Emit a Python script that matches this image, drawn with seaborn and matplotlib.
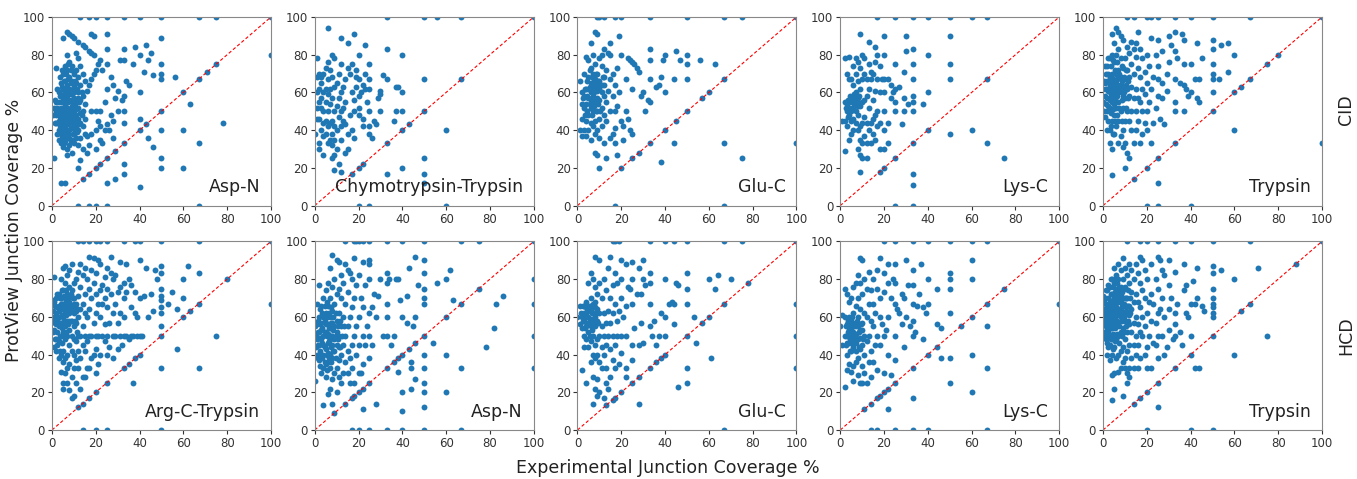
import pandas as pd
import matplotlib
matplotlib.use('Agg')
import matplotlib.pyplot as plt
import seaborn as sns

# Row / column labels
fragmentation = ['CID', 'HCD']
cid_enzymes = ['Asp-N', 'Chymotrypsin-Trypsin', 'Glu-C', 'Lys-C', 'Trypsin']
hcd_enzymes = ['Arg-C-Trypsin', 'Asp-N', 'Glu-C', 'Lys-C', 'Trypsin']
ticks = [0, 20, 40, 60, 80, 100]

# (experimental coverage %, ProtView coverage %)
cid_asp_n = [
    (13, 100), (17, 100), (20, 100), (25, 100), (33, 100), (40, 100), (50, 100), (67, 100), (75, 100), (100, 100),
    (12, 0), (17, 0), (20, 0), (25, 0), (67, 0),
    (14, 14), (17, 17), (20, 20), (22, 22), (25, 25), (29, 29), (33, 33), (40, 40), (43, 43), (50, 50),
    (60, 60), (67, 67), (71, 71), (75, 75),
    (100, 80), (78, 44), (67, 33), (60, 40), (60, 20), (50, 25), (50, 20), (40, 10), (46, 31), (44, 36),
    (33, 22), (33, 17), (29, 14), (25, 12), (6, 12), (4, 12), (12, 20), (13, 24), (1, 25), (2, 73),
    (7, 92), (8, 91), (9, 90), (10, 89), (12, 87), (14, 85), (15, 84), (17, 82), (18, 81), (19, 80),
    (5, 89), (18, 91), (19, 90), (25, 91), (25, 83), (33, 83), (38, 84), (43, 85), (45, 81), (40, 80),
    (44, 77), (42, 71), (46, 69), (50, 75), (50, 70), (50, 67), (56, 68), (50, 89), (37, 75), (31, 77),
    (33, 77), (34, 66), (35, 64), (40, 60), (33, 58), (29, 57), (32, 56), (33, 50), (30, 50), (28, 45),
    (33, 44), (40, 46), (63, 54), (50, 40), (25, 62), (27, 68), (28, 64), (30, 61), (22, 77), (21, 75),
    (20, 72), (23, 72), (25, 75), (19, 70), (18, 67), (17, 64), (16, 61), (24, 55), (22, 50), (20, 50),
    (18, 50), (21, 45), (22, 42), (24, 40), (20, 40), (22, 35), (23, 33), (20, 30), (17, 32), (16, 28),
    (14, 30), (16, 37), (18, 38), (28, 36), (26, 40), (25, 43), (27, 48),
    (1, 52), (2, 50), (2, 55), (2, 48), (3, 60), (3, 45), (3, 40), (3, 35), (4, 65), (4, 58), (4, 52),
    (4, 47), (4, 42), (4, 38), (4, 33), (5, 70), (5, 62), (5, 56), (5, 50), (5, 44), (5, 36), (5, 31),
    (6, 74), (6, 66), (6, 60), (6, 54), (6, 48), (6, 42), (6, 38), (6, 34), (7, 80), (7, 72), (7, 64),
    (7, 58), (7, 52), (7, 46), (7, 40), (7, 30), (7, 27), (8, 76), (8, 68), (8, 62), (8, 56), (8, 50),
    (8, 44), (8, 36), (8, 32), (9, 74), (9, 66), (9, 59), (9, 53), (9, 47), (9, 41), (9, 35), (9, 28),
    (10, 70), (10, 63), (10, 57), (10, 50), (10, 45), (10, 38), (10, 33), (11, 81), (11, 72), (11, 65),
    (11, 55), (11, 48), (11, 42), (11, 36), (12, 78), (12, 68), (12, 60), (12, 52), (12, 46), (12, 40),
    (12, 32), (13, 74), (13, 64), (13, 56), (13, 44), (13, 36), (14, 70), (14, 58), (14, 50), (14, 42),
    (15, 66), (15, 54), (15, 46), (15, 38), (3, 55), (5, 58), (6, 51), (8, 47), (9, 56), (10, 60),
    (7, 55), (6, 45), (4, 49), (11, 51), (12, 57), (13, 49), (8, 40), (10, 42), (2, 44), (3, 50),
    (0.5, 48), (1.5, 56), (1.5, 44), (2.5, 62), (2.5, 52), (2.5, 38), (3.5, 68), (3.5, 58), (3.5, 47),
    (3.5, 42), (4.5, 72), (4.5, 63), (4.5, 55), (4.5, 45), (4.5, 36), (5.5, 66), (5.5, 59), (5.5, 52),
    (5.5, 47), (5.5, 40), (5.5, 33), (6.5, 70), (6.5, 62), (6.5, 57), (6.5, 50), (6.5, 44), (6.5, 36),
    (7.5, 75), (7.5, 67), (7.5, 60), (7.5, 55), (7.5, 49), (7.5, 43), (7.5, 38), (8.5, 72), (8.5, 65),
    (8.5, 59), (8.5, 52), (8.5, 46), (8.5, 41), (8.5, 34), (9.5, 62), (9.5, 55), (9.5, 49), (9.5, 44),
    (9.5, 38), (10.5, 66), (10.5, 54), (10.5, 47), (10.5, 40), (11.5, 62), (11.5, 45), (11.5, 39),
    (12.5, 55), (12.5, 43), (13.5, 60), (13.5, 48),
]

cid_chymo_tryp = [
    (33, 100), (50, 100), (56, 100), (67, 100), (100, 100), (20, 0), (25, 0), (60, 0),
    (17, 17), (20, 20), (22, 22), (33, 33), (40, 40), (43, 43), (50, 50), (67, 67),
    (60, 40), (50, 25), (50, 17), (50, 12), (50, 67), (40, 20), (33, 17), (33, 83), (40, 80), (40, 60),
    (40, 50), (37, 50), (36, 45), (38, 63), (37, 63), (33, 67), (31, 69), (30, 61), (30, 59), (29, 57),
    (30, 50), (28, 43), (27, 45), (26, 36), (25, 75), (25, 67), (25, 62), (25, 50), (25, 42), (25, 38),
    (24, 55), (23, 85), (23, 70), (23, 62), (22, 64), (22, 46), (22, 42), (21, 60), (20, 80), (20, 67),
    (20, 58), (20, 52), (20, 48), (19, 72), (19, 68), (19, 63), (18, 91), (18, 56), (18, 36), (18, 50),
    (17, 75), (17, 60), (17, 40), (16, 70), (16, 48), (15, 86), (15, 73), (15, 38), (15, 30), (14, 67),
    (14, 55), (14, 43), (14, 28), (13, 63), (13, 52), (13, 45), (12, 89), (12, 75), (12, 60), (12, 50),
    (12, 42), (12, 35), (12, 18), (11, 70), (11, 57), (11, 47), (11, 22), (10, 65), (10, 53), (10, 40),
    (10, 30), (9, 78), (9, 63), (9, 50), (9, 42), (9, 35), (9, 27), (9, 19), (8, 80), (8, 68), (8, 57),
    (8, 45), (8, 38), (8, 32), (8, 25), (7, 72), (7, 62), (7, 54), (7, 44), (7, 35), (6, 94), (6, 76),
    (6, 67), (6, 59), (6, 50), (6, 42), (6, 33), (5, 73), (5, 62), (5, 55), (5, 45), (5, 38), (4, 70),
    (4, 60), (4, 50), (4, 44), (4, 37), (4, 27), (3, 68), (3, 65), (3, 57), (3, 52), (3, 40), (2, 70),
    (2, 62), (2, 55), (2, 46), (2, 33), (2, 30), (1, 78), (1, 68), (1, 60), (1, 52), (1, 46), (0, 38),
]

cid_glu_c = [
    (9, 100), (10, 100), (12, 100), (17, 100), (20, 100), (33, 100), (50, 100), (67, 100), (75, 100), (100, 100),
    (17, 0), (67, 0),
    (20, 20), (25, 25), (28, 28), (33, 33), (40, 40), (45, 45), (50, 50), (57, 57), (60, 60), (67, 67),
    (100, 33), (75, 25), (67, 33), (44, 33), (38, 23), (63, 75), (56, 77), (50, 80), (50, 75), (50, 67),
    (47, 77), (45, 82), (44, 67), (40, 80), (40, 60), (39, 77), (38, 68), (37, 64), (36, 63), (33, 83),
    (33, 77), (33, 67), (33, 55), (32, 56), (31, 50), (30, 60), (29, 58), (28, 71), (27, 73), (26, 75),
    (25, 76), (24, 77), (23, 78), (22, 67), (25, 62), (22, 50), (23, 46), (24, 40), (25, 38), (21, 42),
    (21, 35), (20, 45), (20, 80), (19, 60), (18, 53), (18, 73), (19, 90), (17, 64), (17, 50), (17, 41),
    (17, 33), (18, 27), (16, 70), (16, 58), (16, 38), (15, 86), (15, 80), (15, 67), (15, 50), (15, 36),
    (14, 61), (14, 81), (13, 72), (13, 55), (13, 45), (13, 25), (12, 83), (12, 68), (12, 58), (12, 48),
    (12, 33), (11, 80), (11, 74), (11, 64), (11, 52), (11, 42), (10, 78), (10, 66), (10, 56), (10, 46),
    (10, 36), (10, 20), (9, 91), (9, 70), (9, 61), (9, 50), (9, 40), (9, 27), (8, 92), (8, 75), (8, 64),
    (8, 55), (8, 45), (8, 38), (8, 28), (7, 80), (7, 70), (7, 58), (7, 50), (7, 42), (6, 86), (6, 73),
    (6, 65), (6, 60), (6, 52), (6, 44), (6, 35), (5, 77), (5, 68), (5, 57), (5, 48), (5, 40), (4, 79),
    (4, 62), (4, 54), (4, 45), (4, 37), (3, 70), (3, 58), (3, 52), (3, 40), (2, 60), (2, 54), (2, 46),
    (2, 37), (1, 66), (1, 40), (7, 63), (8, 67), (9, 57), (10, 62), (11, 60), (6, 56), (5, 62), (12, 64),
    (2.5, 57), (3.5, 62), (3.5, 48), (4.5, 66), (4.5, 58), (4.5, 50), (5.5, 72), (5.5, 63), (5.5, 54),
    (6.5, 68), (6.5, 57), (6.5, 48), (7.5, 66), (7.5, 60), (7.5, 53), (8.5, 70), (8.5, 62), (8.5, 50),
    (9.5, 66), (9.5, 54), (10.5, 64), (10.5, 50), (11.5, 68),
]

cid_lys_c = [
    (17, 100), (25, 100), (33, 100), (40, 100), (50, 100), (60, 100), (67, 100), (25, 0), (33, 0),
    (18, 18), (20, 20), (25, 25), (33, 33), (40, 40), (67, 67),
    (75, 25), (67, 33), (60, 40), (50, 38), (33, 17), (33, 11), (50, 90), (50, 75), (50, 67), (40, 80),
    (40, 60), (38, 54), (33, 83), (33, 75), (33, 67), (33, 58), (33, 55), (33, 50), (31, 54), (30, 90),
    (30, 82), (29, 71), (29, 57), (29, 50), (28, 43), (27, 63), (25, 75), (25, 62), (25, 55), (25, 50),
    (24, 60), (23, 64), (23, 57), (22, 67), (22, 44), (22, 33), (20, 90), (20, 80), (20, 67), (20, 60),
    (20, 50), (20, 40), (20, 30), (19, 67), (18, 74), (18, 60), (18, 44), (18, 30), (17, 80), (17, 67),
    (17, 50), (17, 42), (16, 84), (16, 76), (16, 61), (16, 48), (16, 35), (15, 70), (15, 56), (15, 46),
    (15, 38), (14, 71), (14, 67), (14, 44), (14, 33), (13, 87), (13, 75), (13, 62), (13, 52), (13, 40),
    (12, 67), (12, 58), (12, 44), (12, 33), (12, 25), (11, 78), (11, 70), (11, 56), (11, 47), (11, 37),
    (10, 80), (10, 67), (10, 55), (10, 44), (10, 33), (10, 25), (9, 91), (9, 73), (9, 62), (9, 53),
    (9, 42), (9, 35), (9, 27), (9, 18), (8, 76), (8, 66), (8, 57), (8, 48), (8, 40), (8, 30), (7, 78),
    (7, 70), (7, 60), (7, 55), (7, 50), (7, 44), (6, 74), (6, 64), (6, 58), (6, 52), (6, 46), (6, 40),
    (5, 67), (5, 56), (5, 50), (5, 45), (5, 38), (4, 79), (4, 67), (4, 55), (4, 48), (4, 35), (3, 70),
    (3, 54), (3, 50), (3, 42), (2, 78), (2, 55), (2, 45), (2, 29), (1, 45), (6, 55), (7, 57), (8, 53),
    (2.5, 52), (3.5, 56), (4.5, 58), (4.5, 52), (5.5, 55), (6.5, 59), (6.5, 53), (7.5, 55), (8.5, 58),
    (3.5, 47),
]

cid_trypsin = [
    (11, 100), (14, 100), (20, 100), (22, 100), (25, 100), (33, 100), (40, 100), (50, 100), (67, 100), (100, 100),
    (20, 0), (25, 0), (40, 0),
    (14, 14), (20, 20), (25, 25), (33, 33), (50, 50), (60, 60), (63, 63), (67, 67), (75, 75), (80, 80),
    (100, 33), (60, 40), (60, 80), (57, 86), (57, 71), (54, 85), (53, 67), (50, 88), (50, 83), (50, 75),
    (50, 70), (50, 67), (50, 60), (45, 78), (44, 67), (44, 55), (43, 86), (43, 57), (42, 67), (40, 75),
    (40, 60), (39, 58), (38, 62), (37, 64), (37, 75), (37, 88), (36, 91), (35, 65), (34, 78), (33, 92),
    (33, 82), (33, 67), (33, 55), (33, 50), (37, 50), (31, 85), (30, 90), (30, 76), (29, 70), (29, 61),
    (28, 43), (27, 82), (27, 65), (27, 57), (26, 46), (25, 88), (25, 74), (25, 67), (25, 58), (25, 12),
    (24, 80), (24, 52), (23, 68), (23, 44), (22, 89), (22, 62), (22, 33), (21, 74), (21, 55), (20, 80),
    (20, 65), (20, 50), (20, 40), (19, 71), (19, 59), (19, 44), (18, 78), (18, 62), (18, 50), (18, 38),
    (17, 83), (17, 68), (17, 55), (17, 33), (16, 92), (16, 73), (16, 57), (16, 45), (15, 86), (15, 79),
    (15, 62), (15, 50), (15, 40), (14, 83), (14, 70), (14, 57), (14, 33), (13, 87), (13, 75), (13, 63),
    (13, 50), (13, 40), (12, 81), (12, 68), (12, 58), (12, 45), (12, 25), (11, 84), (11, 72), (11, 62),
    (11, 50), (11, 28), (10, 78), (10, 67), (10, 57), (10, 45), (10, 33), (10, 20), (9, 88), (9, 73),
    (9, 63), (9, 52), (9, 40), (9, 31), (8, 90), (8, 78), (8, 68), (8, 60), (8, 50), (8, 37), (7, 92),
    (7, 83), (7, 72), (7, 64), (7, 55), (7, 45), (7, 33), (6, 94), (6, 80), (6, 70), (6, 61), (6, 52),
    (6, 42), (5, 86), (5, 76), (5, 66), (5, 58), (5, 48), (5, 38), (4, 91), (4, 80), (4, 70), (4, 62),
    (4, 55), (4, 45), (4, 30), (4, 16), (3, 78), (3, 68), (3, 60), (3, 52), (3, 40), (3, 33), (2, 74),
    (2, 66), (2, 57), (2, 50), (2, 40), (1, 74), (1, 65), (1, 58), (1, 47), (0, 62), (0, 55),
    (3, 64), (4, 58), (5, 62), (6, 66), (7, 60), (8, 64), (9, 58), (10, 62), (2, 62), (3, 56), (5, 54),
    (0.5, 66), (0.5, 50), (1.5, 70), (1.5, 62), (1.5, 54), (2.5, 78), (2.5, 70), (2.5, 61), (2.5, 53),
    (2.5, 45), (3.5, 74), (3.5, 66), (3.5, 58), (3.5, 49), (3.5, 42), (4.5, 77), (4.5, 67), (4.5, 59),
    (4.5, 51), (4.5, 38), (5.5, 72), (5.5, 64), (5.5, 56), (5.5, 45), (6.5, 76), (6.5, 67), (6.5, 58),
    (6.5, 48), (7.5, 70), (7.5, 62), (7.5, 52), (8.5, 74), (8.5, 66), (8.5, 56), (8.5, 45), (9.5, 68),
    (9.5, 60), (10.5, 72), (10.5, 64), (10.5, 52), (11.5, 66), (11.5, 57),
]

hcd_argc_tryp = [
    (12, 100), (14, 100), (17, 100), (20, 100), (22, 100), (25, 100), (33, 100), (38, 100), (40, 100),
    (50, 100), (67, 100), (100, 100), (14, 0), (20, 0), (25, 0), (50, 0),
    (12, 12), (14, 14), (17, 17), (20, 20), (25, 25), (33, 33), (35, 35), (38, 38), (40, 40), (50, 50),
    (60, 60), (63, 63), (67, 67), (80, 80),
    (100, 67), (75, 50), (67, 33), (67, 83), (62, 87), (60, 80), (60, 70), (57, 64), (57, 43), (55, 73),
    (53, 67), (50, 87), (50, 83), (50, 75), (50, 71), (50, 69), (50, 65), (50, 62), (50, 55), (50, 33),
    (48, 80), (47, 85), (46, 63), (45, 72), (44, 60), (43, 86), (42, 71), (41, 50), (40, 90), (40, 70),
    (40, 50), (39, 50), (39, 60), (38, 73), (38, 62), (37, 50), (37, 25), (36, 77), (36, 65), (36, 50),
    (35, 80), (35, 48), (34, 88), (34, 73), (34, 50), (33, 78), (33, 70), (33, 60), (33, 50), (32, 45),
    (31, 89), (31, 76), (31, 62), (31, 50), (30, 73), (30, 57), (30, 43), (29, 82), (29, 67), (29, 50),
    (28, 80), (28, 62), (28, 50), (28, 38), (27, 92), (27, 83), (27, 72), (26, 57), (26, 44), (25, 86),
    (25, 75), (25, 65), (25, 50), (25, 40), (24, 81), (24, 70), (24, 56), (24, 47), (23, 77), (23, 67),
    (23, 50), (22, 88), (22, 74), (22, 60), (22, 40), (21, 90), (21, 67), (21, 50), (21, 35), (20, 83),
    (20, 72), (20, 62), (20, 50), (20, 43), (20, 30), (19, 91), (19, 78), (19, 57), (19, 40), (18, 85),
    (18, 70), (18, 50), (18, 38), (17, 92), (17, 75), (17, 64), (17, 50), (17, 33), (16, 80), (16, 60),
    (16, 47), (16, 33), (15, 86), (15, 72), (15, 62), (15, 50), (15, 42), (15, 28), (14, 82), (14, 67),
    (14, 55), (14, 45), (14, 28), (13, 88), (13, 76), (13, 64), (13, 50), (13, 38), (13, 22), (12, 84),
    (12, 71), (12, 60), (12, 50), (12, 42), (12, 33), (11, 80), (11, 67), (11, 57), (11, 47), (11, 37),
    (11, 25), (10, 78), (10, 70), (10, 62), (10, 55), (10, 48), (10, 40), (10, 33), (10, 18), (9, 88),
    (9, 74), (9, 66), (9, 58), (9, 50), (9, 42), (9, 28), (9, 17), (8, 85), (8, 76), (8, 68), (8, 62),
    (8, 53), (8, 45), (8, 35), (8, 21), (7, 82), (7, 72), (7, 66), (7, 58), (7, 50), (7, 40), (7, 33),
    (7, 25), (6, 87), (6, 78), (6, 70), (6, 63), (6, 55), (6, 48), (6, 38), (6, 30), (5, 86), (5, 74),
    (5, 67), (5, 60), (5, 52), (5, 42), (5, 36), (5, 25), (5, 22), (4, 80), (4, 70), (4, 64), (4, 57),
    (4, 50), (4, 40), (4, 31), (3, 72), (3, 66), (3, 60), (3, 55), (3, 47), (3, 38), (2, 70), (2, 62),
    (2, 56), (2, 48), (2, 42), (1, 81), (1, 68), (1, 60), (1, 53), (1, 44), (0, 69), (0, 58),
    (7, 62), (8, 58), (9, 64), (10, 67), (6, 66), (5, 64), (11, 63), (4, 67), (3, 63), (8, 65),
    (0.5, 63), (0.5, 52), (1.5, 66), (1.5, 57), (1.5, 48), (2.5, 72), (2.5, 65), (2.5, 59), (2.5, 52),
    (2.5, 45), (3.5, 70), (3.5, 64), (3.5, 57), (3.5, 50), (3.5, 42), (4.5, 74), (4.5, 67), (4.5, 61),
    (4.5, 54), (4.5, 46), (5.5, 71), (5.5, 65), (5.5, 58), (5.5, 50), (6.5, 74), (6.5, 68), (6.5, 61),
    (6.5, 52), (7.5, 70), (7.5, 64), (7.5, 56), (8.5, 72), (8.5, 66), (8.5, 58), (9.5, 70), (9.5, 63),
    (10.5, 66), (10.5, 58), (11.5, 64), (11.5, 52),
]

hcd_asp_n = [
    (14, 100), (18, 100), (19, 100), (20, 100), (22, 100), (25, 100), (33, 100), (40, 100), (50, 100),
    (67, 100), (75, 100), (100, 100), (17, 0), (20, 0), (25, 0), (33, 0), (40, 0), (50, 0), (67, 0),
    (9, 9), (14, 14), (17, 17), (18, 18), (20, 20), (22, 22), (25, 25), (33, 33), (36, 36), (38, 38),
    (40, 40), (43, 43), (46, 46), (50, 50), (60, 60), (67, 67), (75, 75),
    (100, 80), (100, 67), (100, 50), (100, 33), (86, 71), (83, 67), (82, 54), (78, 44), (67, 33), (62, 85),
    (63, 69), (60, 80), (60, 40), (60, 20), (56, 78), (54, 46), (50, 90), (50, 83), (50, 75), (50, 70),
    (50, 67), (50, 40), (50, 33), (50, 25), (50, 20), (50, 12), (47, 77), (46, 92), (46, 60), (46, 27),
    (45, 55), (44, 36), (44, 33), (44, 22), (43, 86), (42, 71), (42, 57), (40, 60), (40, 20), (40, 10),
    (39, 69), (38, 80), (38, 31), (37, 80), (36, 50), (35, 45), (34, 80), (33, 83), (33, 78), (33, 67),
    (33, 60), (33, 50), (31, 50), (30, 80), (29, 71), (28, 14), (28, 60), (27, 72), (26, 65), (26, 45),
    (25, 88), (25, 90), (25, 80), (25, 62), (25, 50), (25, 38), (24, 55), (23, 77), (23, 45), (22, 11),
    (22, 89), (22, 65), (22, 50), (22, 35), (21, 70), (21, 30), (20, 82), (20, 60), (20, 45), (20, 30),
    (19, 77), (19, 55), (19, 40), (18, 91), (18, 70), (18, 50), (18, 25), (17, 80), (17, 65), (17, 45),
    (17, 33), (16, 83), (16, 60), (16, 38), (16, 25), (15, 85), (15, 73), (15, 55), (15, 42), (15, 30),
    (14, 88), (14, 67), (14, 50), (14, 36), (13, 78), (13, 60), (13, 45), (13, 30), (12, 82), (12, 70),
    (12, 55), (12, 40), (12, 25), (11, 89), (11, 75), (11, 62), (11, 50), (11, 37), (11, 28), (10, 90),
    (10, 72), (10, 58), (10, 45), (10, 33), (10, 20), (9, 80), (9, 67), (9, 55), (9, 42), (9, 30),
    (8, 93), (8, 76), (8, 63), (8, 50), (8, 38), (8, 27), (8, 14), (7, 86), (7, 70), (7, 60), (7, 48),
    (7, 40), (7, 33), (7, 22), (6, 78), (6, 66), (6, 56), (6, 46), (6, 36), (6, 19), (5, 74), (5, 62),
    (5, 52), (5, 43), (5, 35), (5, 28), (4, 70), (4, 60), (4, 50), (4, 40), (4, 33), (4, 13), (3, 66),
    (3, 57), (3, 48), (3, 40), (3, 30), (2, 77), (2, 60), (2, 52), (2, 45), (2, 37), (1, 67), (1, 56),
    (1, 48), (1, 40), (0, 55), (0, 26),
    (5, 56), (6, 51), (7, 54), (8, 45), (9, 48), (10, 52), (4, 45), (3, 53), (6, 41), (8, 57), (11, 44),
    (0.5, 50), (0.5, 44), (1.5, 58), (1.5, 52), (1.5, 45), (1.5, 38), (2.5, 64), (2.5, 56), (2.5, 49),
    (2.5, 42), (2.5, 34), (3.5, 62), (3.5, 54), (3.5, 46), (3.5, 38), (4.5, 66), (4.5, 58), (4.5, 52),
    (4.5, 44), (4.5, 36), (5.5, 68), (5.5, 60), (5.5, 50), (5.5, 40), (5.5, 32), (6.5, 62), (6.5, 54),
    (6.5, 47), (6.5, 38), (7.5, 65), (7.5, 57), (7.5, 50), (7.5, 44), (7.5, 36), (8.5, 60), (8.5, 53),
    (8.5, 42), (9.5, 62), (9.5, 50), (9.5, 38), (10.5, 55), (10.5, 48), (11.5, 58), (11.5, 44),
    (12.5, 50), (13.5, 55),
]

hcd_glu_c = [
    (16, 100), (17, 100), (19, 100), (33, 100), (40, 100), (44, 100), (50, 100), (67, 100), (75, 100),
    (67, 0),
    (13, 13), (16, 16), (17, 17), (20, 20), (25, 25), (28, 28), (33, 33), (36, 36), (38, 38), (40, 40),
    (50, 50), (57, 57), (60, 60), (67, 67), (78, 78), (100, 100),
    (100, 67), (100, 50), (100, 33), (70, 80), (64, 82), (63, 75), (61, 38), (60, 80), (54, 46), (53, 60),
    (50, 83), (50, 75), (50, 67), (50, 33), (50, 25), (46, 23), (46, 77), (45, 78), (44, 67), (44, 56),
    (43, 68), (42, 67), (40, 80), (40, 60), (40, 50), (38, 62), (37, 50), (36, 45), (35, 58), (34, 50),
    (33, 83), (33, 78), (33, 67), (33, 55), (31, 77), (30, 90), (30, 80), (30, 46), (29, 72), (29, 57),
    (28, 86), (28, 14), (28, 45), (27, 72), (26, 54), (25, 89), (25, 80), (25, 67), (25, 45), (25, 37),
    (24, 75), (23, 76), (22, 88), (22, 66), (22, 50), (22, 33), (22, 28), (21, 60), (20, 90), (20, 80),
    (20, 70), (20, 50), (20, 41), (19, 63), (19, 35), (18, 78), (18, 58), (18, 50), (17, 83), (17, 67),
    (17, 45), (17, 33), (16, 77), (16, 62), (16, 50), (16, 37), (15, 92), (15, 70), (15, 57), (15, 43),
    (15, 28), (14, 86), (14, 63), (14, 50), (14, 22), (13, 74), (13, 57), (13, 45), (13, 33), (13, 25),
    (12, 80), (12, 62), (12, 50), (12, 40), (12, 17), (11, 70), (11, 55), (11, 44), (11, 33), (10, 90),
    (10, 78), (10, 62), (10, 50), (10, 36), (10, 20), (9, 72), (9, 58), (9, 48), (9, 40), (9, 27),
    (9, 18), (8, 92), (8, 76), (8, 65), (8, 55), (8, 45), (8, 38), (8, 22), (7, 80), (7, 67), (7, 58),
    (7, 50), (7, 40), (7, 28), (7, 14), (6, 83), (6, 70), (6, 63), (6, 55), (6, 47), (6, 36), (5, 78),
    (5, 66), (5, 60), (5, 52), (5, 44), (4, 68), (4, 62), (4, 55), (4, 48), (4, 25), (3, 66), (3, 58),
    (3, 50), (3, 44), (2, 60), (2, 54), (2, 32), (1, 66), (1, 56), (0, 60),
    (5, 63), (6, 66), (7, 62), (8, 60), (4, 65), (9, 64), (3, 62), (6, 59), (8, 68),
    (1.5, 62), (2.5, 58), (2.5, 66), (3.5, 60), (3.5, 54), (4.5, 63), (4.5, 57), (5.5, 66), (5.5, 58),
    (5.5, 50), (6.5, 62), (6.5, 53), (7.5, 65), (7.5, 56), (8.5, 62), (9.5, 57),
]

hcd_lys_c = [
    (20, 100), (25, 100), (33, 100), (40, 100), (50, 100), (60, 100), (67, 100),
    (14, 0), (17, 0), (25, 0), (33, 0), (40, 0), (67, 0),
    (11, 11), (14, 14), (17, 17), (18, 18), (20, 20), (22, 22), (25, 25), (33, 33), (40, 40), (44, 44),
    (55, 55), (60, 60), (67, 67), (75, 75), (100, 100),
    (100, 67), (67, 55), (67, 33), (60, 90), (60, 80), (60, 40), (60, 20), (50, 83), (50, 80), (50, 75),
    (50, 62), (50, 38), (50, 25), (46, 54), (46, 38), (44, 56), (44, 75), (40, 80), (40, 67), (39, 62),
    (38, 48), (38, 65), (37, 88), (36, 72), (35, 66), (34, 52), (33, 85), (33, 77), (33, 67), (33, 58),
    (33, 50), (33, 17), (32, 55), (31, 77), (30, 90), (30, 60), (29, 70), (29, 44), (28, 56), (28, 72),
    (27, 62), (26, 64), (25, 88), (25, 78), (25, 67), (25, 50), (25, 37), (24, 80), (23, 70), (23, 29),
    (22, 88), (22, 78), (22, 60), (22, 40), (22, 11), (21, 53), (20, 83), (20, 73), (20, 50), (20, 30),
    (19, 56), (18, 91), (18, 70), (18, 60), (18, 45), (17, 85), (17, 75), (17, 50), (17, 32), (16, 62),
    (16, 45), (15, 80), (15, 67), (15, 55), (15, 36), (14, 74), (14, 58), (14, 42), (14, 28), (13, 84),
    (13, 67), (13, 50), (13, 36), (12, 75), (12, 60), (12, 47), (12, 25), (11, 80), (11, 62), (11, 50),
    (11, 40), (11, 30), (10, 90), (10, 72), (10, 57), (10, 45), (10, 34), (10, 25), (9, 91), (9, 78),
    (9, 64), (9, 53), (9, 43), (9, 25), (8, 82), (8, 70), (8, 60), (8, 48), (8, 38), (8, 29), (7, 78),
    (7, 66), (7, 55), (7, 46), (7, 36), (6, 76), (6, 62), (6, 52), (6, 44), (6, 34), (6, 26), (5, 70),
    (5, 58), (5, 50), (5, 42), (5, 31), (4, 68), (4, 60), (4, 53), (4, 46), (4, 35), (3, 72), (3, 56),
    (3, 50), (3, 40), (3, 32), (2, 75), (2, 60), (2, 50), (2, 23), (1, 61), (1, 45), (0, 55),
    (4, 50), (5, 54), (6, 48), (7, 51), (8, 55), (9, 49), (10, 53), (6, 57), (3, 46), (7, 42),
    (2.5, 55), (2.5, 45), (3.5, 58), (3.5, 52), (4.5, 56), (4.5, 48), (4.5, 42), (5.5, 60), (5.5, 52),
    (5.5, 46), (6.5, 55), (6.5, 50), (7.5, 58), (7.5, 48), (8.5, 52), (8.5, 44), (9.5, 56), (10.5, 48),
]

hcd_trypsin = [
    (11, 100), (17, 100), (20, 100), (25, 100), (33, 100), (40, 100), (50, 100), (67, 100), (100, 100),
    (20, 0), (40, 0), (50, 0),
    (14, 14), (17, 17), (20, 20), (25, 25), (33, 33), (40, 40), (50, 50), (63, 63), (67, 67), (88, 88),
    (75, 50), (71, 86), (60, 80), (60, 40), (54, 85), (50, 87), (50, 83), (50, 75), (50, 70), (50, 67),
    (50, 65), (50, 62), (50, 60), (46, 63), (45, 66), (44, 33), (43, 86), (43, 70), (42, 33), (42, 67),
    (41, 79), (40, 67), (40, 50), (39, 60), (38, 77), (38, 62), (37, 88), (37, 74), (36, 45), (35, 52),
    (34, 67), (33, 84), (33, 62), (33, 56), (33, 50), (32, 48), (31, 70), (30, 90), (30, 77), (30, 64),
    (30, 53), (29, 44), (28, 82), (28, 60), (28, 40), (27, 85), (27, 70), (27, 50), (26, 90), (26, 64),
    (25, 92), (25, 75), (25, 62), (25, 50), (25, 38), (25, 12), (24, 80), (24, 57), (24, 45), (23, 67),
    (23, 46), (22, 88), (22, 72), (22, 58), (22, 33), (21, 68), (21, 50), (20, 80), (20, 62), (20, 44),
    (20, 33), (19, 85), (19, 70), (19, 55), (19, 40), (18, 90), (18, 74), (18, 60), (18, 50), (17, 92),
    (17, 78), (17, 65), (17, 52), (17, 38), (16, 83), (16, 68), (16, 56), (16, 45), (16, 33), (15, 88),
    (15, 72), (15, 60), (15, 50), (15, 40), (14, 80), (14, 68), (14, 57), (14, 45), (14, 33), (13, 85),
    (13, 73), (13, 64), (13, 52), (13, 38), (12, 88), (12, 78), (12, 66), (12, 56), (12, 45), (12, 33),
    (12, 28), (11, 82), (11, 70), (11, 62), (11, 52), (11, 42), (11, 30), (11, 25), (10, 86), (10, 76),
    (10, 66), (10, 58), (10, 48), (10, 38), (10, 33), (9, 91), (9, 80), (9, 70), (9, 62), (9, 54),
    (9, 44), (9, 36), (9, 18), (8, 85), (8, 76), (8, 68), (8, 60), (8, 52), (8, 42), (8, 33), (7, 88),
    (7, 80), (7, 72), (7, 64), (7, 57), (7, 50), (7, 40), (7, 31), (6, 82), (6, 75), (6, 68), (6, 62),
    (6, 55), (6, 48), (6, 38), (5, 86), (5, 78), (5, 70), (5, 64), (5, 58), (5, 50), (5, 44), (5, 30),
    (5, 22), (4, 80), (4, 72), (4, 66), (4, 60), (4, 54), (4, 48), (4, 40), (4, 29), (4, 16), (3, 76),
    (3, 68), (3, 62), (3, 56), (3, 50), (3, 45), (3, 37), (2, 74), (2, 66), (2, 60), (2, 54), (2, 46),
    (2, 40), (1, 70), (1, 64), (1, 58), (1, 50), (0, 71), (0, 62), (0, 56),
    (3, 65), (4, 63), (5, 67), (6, 65), (7, 61), (8, 64), (9, 66), (10, 62), (6, 58), (7, 68), (8, 71),
    (5, 61), (4, 57), (9, 59), (11, 66), (12, 61), (2, 63), (3, 59), (6, 71), (7, 75), (10, 70),
    (0.5, 68), (0.5, 60), (0.5, 52), (1.5, 74), (1.5, 67), (1.5, 61), (1.5, 55), (1.5, 48), (2.5, 77),
    (2.5, 70), (2.5, 64), (2.5, 58), (2.5, 52), (2.5, 44), (3.5, 80), (3.5, 72), (3.5, 66), (3.5, 60),
    (3.5, 54), (3.5, 48), (4.5, 76), (4.5, 69), (4.5, 63), (4.5, 57), (4.5, 51), (4.5, 43), (5.5, 80),
    (5.5, 73), (5.5, 66), (5.5, 60), (5.5, 54), (5.5, 47), (6.5, 78), (6.5, 71), (6.5, 64), (6.5, 58),
    (6.5, 51), (7.5, 76), (7.5, 69), (7.5, 62), (7.5, 55), (7.5, 46), (8.5, 73), (8.5, 66), (8.5, 58),
    (8.5, 50), (9.5, 75), (9.5, 67), (9.5, 60), (9.5, 52), (10.5, 70), (10.5, 63), (10.5, 55),
    (11.5, 74), (11.5, 66), (11.5, 58), (12.5, 70), (12.5, 62),
]

cid_data = [cid_asp_n, cid_chymo_tryp, cid_glu_c, cid_lys_c, cid_trypsin]
hcd_data = [hcd_argc_tryp, hcd_asp_n, hcd_glu_c, hcd_lys_c, hcd_trypsin]

sns.set_theme(style='ticks')
plt.rcParams['font.family'] = ['DejaVu Sans']

fig, axes = plt.subplots(2, 5, figsize=(13.57, 4.79), dpi=100)
fig.subplots_adjust(left=0.0383, right=0.9742, top=0.9645, bottom=0.1023, wspace=0.2, hspace=0.19)

for r, (row_data, row_names) in enumerate([(cid_data, cid_enzymes), (hcd_data, hcd_enzymes)]):
    for c in range(5):
        ax = axes[r, c]
        df = pd.DataFrame(row_data[c], columns=['experimental', 'protview'])
        sns.scatterplot(data=df, x='experimental', y='protview', ax=ax,
                        s=18, color='#1f77b4', linewidth=0)
        # y = x reference line
        ax.axline((0, 0), slope=1, color='red', linestyle='--', linewidth=0.8, dashes=(3, 2))
        ax.set_xlim(0, 100)
        ax.set_ylim(0, 100)
        ax.set_xticks(ticks)
        ax.set_yticks(ticks)
        ax.tick_params(labelsize=8.5, length=3, width=0.8, pad=2, colors='#333333')
        for sp in ax.spines.values():
            sp.set_color('#888888')
            sp.set_linewidth(0.8)
        ax.set_xlabel('')
        ax.set_ylabel('')
        ax.text(0.95, 0.05, row_names[c], transform=ax.transAxes,
                ha='right', va='bottom', fontsize=12.5, color='#222222')

fig.text(0.0105, 0.52, 'ProtView Junction Coverage %', rotation=90,
         ha='center', va='center', fontsize=12.5, color='#222222')
fig.text(0.492, 0.022, 'Experimental Junction Coverage %',
         ha='center', va='center', fontsize=12.5, color='#222222')
fig.text(0.992, 0.77, fragmentation[0], rotation=90, ha='center', va='center', fontsize=12.5, color='#222222')
fig.text(0.992, 0.30, fragmentation[1], rotation=90, ha='center', va='center', fontsize=12.5, color='#222222')

plt.savefig('out.png', dpi=100)
